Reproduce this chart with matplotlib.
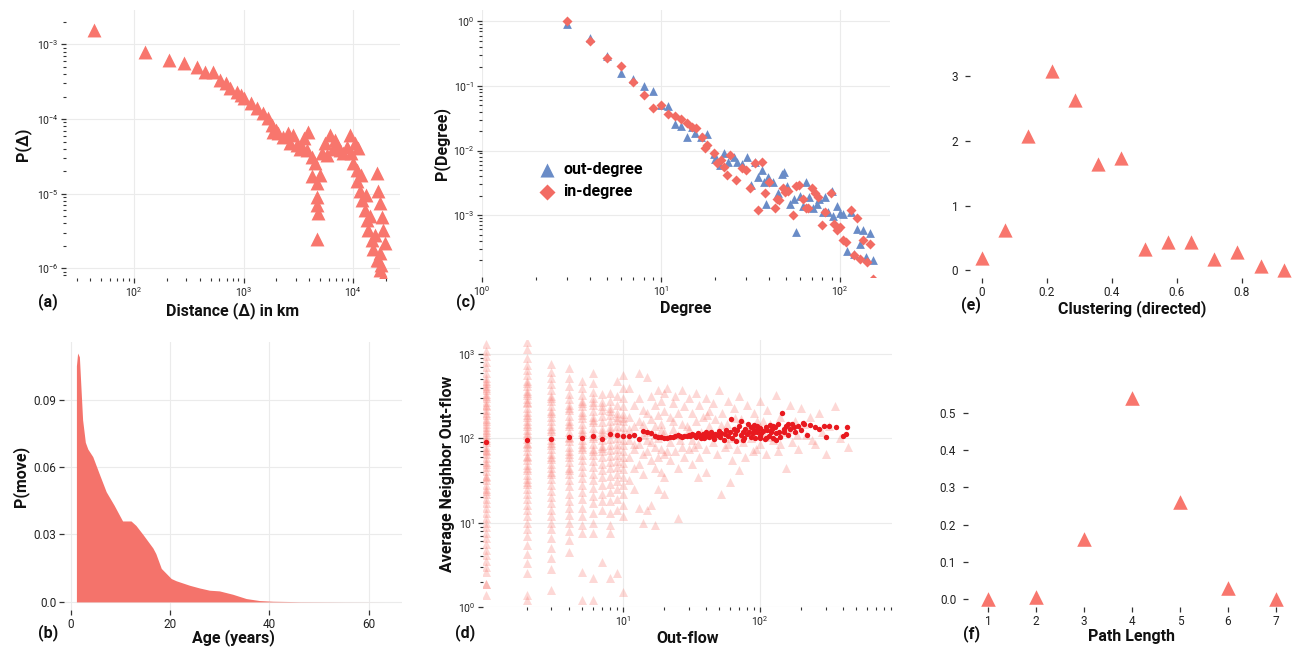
import matplotlib
matplotlib.use("Agg")
import matplotlib.pyplot as plt
import numpy as np
from matplotlib.ticker import LogLocator, NullFormatter

plt.rcParams['font.family'] = ['Roboto', 'DejaVu Sans']
plt.rcParams['mathtext.default'] = 'regular'

RED = '#F8766D'
BLUE = '#6A8CC7'
DOT = '#E8191F'
GRID = '#EBEBEB'

# (a) distance distribution
dist_km = [43, 126, 208, 285, 373, 450, 530, 605, 686, 760, 880, 940,
           1000, 1160, 1340, 1520, 1690, 1830, 1870, 2080, 2300, 2570, 2850,
           2670, 3100, 3430, 3900, 3800, 4240, 4520, 4240, 5000, 4700, 4700,
           4700, 4800, 4700, 5560, 6170, 6850, 7600, 5800, 5230, 7100, 8100,
           9400, 10400, 11100, 9600, 9900, 10900, 10900, 11600, 12100, 12900,
           13400, 13700, 14900, 15200, 16500, 17500, 18700, 16500, 16900,
           17500, 18300, 18700, 19500, 17500, 17000, 3600, 3300, 2000, 6500,
           8800, 11800, 13000, 14200, 15800, 18000]
p_dist = [1.57e-3, 7.9e-4, 6.2e-4, 5.6e-4, 5.0e-4, 4.3e-4, 4.3e-4, 3.3e-4,
          3.0e-4, 2.6e-4, 2.3e-4, 2.1e-4,
          1.9e-4, 1.64e-4, 1.4e-4, 1.2e-4, 1.03e-4, 8.3e-5, 6.7e-5, 6.5e-5,
          5.7e-5, 6.5e-5, 6.1e-5, 4.8e-5, 4.5e-5, 4.2e-5, 6.7e-5, 3.8e-5,
          3.1e-5, 2.6e-5, 1.7e-5, 1.8e-5, 1.4e-5, 9e-6, 7e-6, 5.5e-6, 2.5e-6,
          4.8e-5, 6.1e-5, 5.2e-5, 3.8e-5, 3.3e-5, 3.5e-5, 4.5e-5, 3.5e-5,
          6.1e-5, 4.8e-5, 4.1e-5, 3.5e-5, 2.6e-5, 2.1e-5, 1.5e-5, 1.1e-5,
          8.2e-6, 6e-6, 4.4e-6, 3.3e-6, 2.4e-6, 1.8e-6, 1.3e-6, 9.4e-7,
          7.6e-7, 1.9e-5, 1.1e-5, 7.4e-6, 4.8e-6, 3.3e-6, 2.2e-6, 1.6e-6,
          1.3e-6, 5.5e-5, 4.0e-5, 7.2e-5, 4.0e-5, 4.2e-5, 1.8e-5, 9.5e-6,
          5.0e-6, 2.8e-6, 1.1e-6]

# (b) probability of moving by age
age = [1.1, 1.1, 1.35, 1.7, 2.0, 2.35, 2.9, 3.4, 4.4, 5.7, 7.1, 8.7, 10.4,
       11.1, 12.1, 13.1, 14.5, 16.5, 17.1, 18.2, 20.2, 21.2, 23.9, 25.9,
       27.9, 29.9, 32.6, 35.3, 38.0, 40.7, 46.0, 55.0, 63.0]
p_move = [0.0, 0.105, 0.1107, 0.109, 0.096, 0.081, 0.071, 0.068, 0.0646,
          0.057, 0.049, 0.043, 0.036, 0.036, 0.036, 0.034, 0.030, 0.024,
          0.0215, 0.0149, 0.0104, 0.0094, 0.0074, 0.0062, 0.0052, 0.0049,
          0.0034, 0.0015, 0.0006, 0.0003, 0.0001, 0.00003, 0.0]

# (c) degree distributions
out_deg = [3, 4, 5, 6, 7, 8, 9, 10, 11, 12, 13, 14, 15, 15.5, 16.7, 18.2,
           19.9, 20.1, 21.5, 22.6, 23.7, 25.5, 26.6, 28.4, 30.2, 31.8, 33.8,
           35.1, 36.7, 37.9, 39.6, 38.8, 42.6, 45.4, 47.4, 48.9, 51.0, 52.8,
           55.6, 57.0, 60.0, 62.1, 64.8, 67.7, 71.3, 74.4, 76.9, 80.4, 82.8,
           86.4, 90.2, 92.2, 97.1, 100.4, 104.8, 109.3, 115.2, 120.2, 124.4,
           129.9, 135.5, 140.3, 147.7, 152.9]
p_out = [0.92, 0.55, 0.29, 0.16, 0.127, 0.10, 0.085, 0.050, 0.049, 0.026,
         0.024, 0.016, 0.023, 0.019, 0.0164, 0.018, 0.0088, 0.0073, 0.0059,
         0.0091, 0.0067, 0.008, 0.0067, 0.0062, 0.008, 0.0029, 0.0066,
         0.0039, 0.005, 0.0032, 0.0039, 0.0015, 0.0033, 0.0022, 0.0044,
         0.0047, 0.0028, 0.0015, 0.0018, 0.00054, 0.002, 0.0014, 0.0033,
         0.0019, 0.0013, 0.0015, 0.0018, 0.0011, 0.0019, 0.0011, 0.0024,
         0.00096, 0.0014, 0.00106, 0.00104, 0.00028, 0.00112, 0.00025,
         0.0006, 0.00036, 0.00058, 0.000225, 0.00053, 0.0002]
in_deg = [3, 4, 5, 6, 7, 8, 9, 10, 11, 12, 13, 14, 15, 15.7, 16.9, 17.7,
          18.2, 19.9, 20.7, 21.6, 22.6, 23.4, 24.2, 26.4, 28.4, 30.0, 31.3,
          33.6, 35.1, 36.7, 38.3, 40.0, 43.2, 44.5, 46.0, 48.0, 49.5, 51.7,
          55.1, 57.0, 59.5, 62.7, 64.8, 66.8, 69.8, 72.8, 76.0, 79.3, 82.8,
          89.1, 93.0, 96.2, 100.4, 104.8, 108.5, 115.2, 120.2, 124.4, 129.9,
          134.4, 141.5, 147.7, 152.9]
p_in = [1.0, 0.49, 0.27, 0.205, 0.117, 0.073, 0.045, 0.051, 0.037, 0.034,
        0.0305, 0.027, 0.023, 0.022, 0.0164, 0.0108, 0.0122, 0.0093, 0.0063,
        0.0071, 0.0056, 0.0042, 0.0085, 0.0035, 0.0053, 0.005, 0.0026,
        0.0063, 0.0012, 0.0067, 0.0022, 0.0033, 0.0013, 0.0018, 0.0017,
        0.0026, 0.0023, 0.0024, 0.001, 0.0028, 0.0029, 0.0018, 0.0013,
        0.0013, 0.0026, 0.0022, 0.0019, 0.0007, 0.0011, 0.0022, 0.00074,
        0.00058, 0.00066, 0.00041, 0.000385, 0.0012, 0.00024, 0.00089,
        0.00021, 0.00041, 0.00019, 0.00036, 0.000104]

# (d) average neighbour out-flow, one list per small out-flow value
flow_cols = {
    1: [1300, 1100, 950, 800, 700, 600, 520, 460, 420, 380, 340, 300, 270,
        240, 215, 190, 170, 150, 135, 120, 110, 100, 90, 80, 72, 65, 58, 52,
        46, 41, 36, 32, 28, 25, 22, 19, 17, 15, 13, 11.5, 10, 8.8, 7.6, 6.5,
        5.6, 4.8, 4.1, 3.5, 3.0, 2.6, 1.9, 1.4, 480, 400, 320, 250, 200, 160,
        125, 95, 70, 50, 35, 24, 1.9],
    2: [1380, 1150, 900, 750, 640, 560, 480, 420, 370, 330, 290, 260, 230,
        205, 180, 160, 140, 125, 110, 98, 88, 78, 70, 62, 55, 48, 42, 37, 33,
        29, 25, 22, 19, 16, 14, 12, 10, 8.5, 7, 5.5, 4.3, 3.3, 2.5, 1.4, 1.2,
        450, 350, 270, 190, 150, 115, 85, 60, 44, 30],
    3: [760, 620, 520, 440, 380, 320, 280, 240, 210, 180, 160, 140, 122, 108,
        95, 84, 74, 65, 57, 50, 44, 38, 33, 28, 24, 20, 17, 14, 12, 10, 8.5,
        6.5, 5, 3.8, 2.8, 1.6, 300, 200, 130, 88, 60, 40],
    4: [690, 520, 420, 340, 290, 250, 215, 185, 160, 140, 120, 105, 92, 80,
        70, 60, 52, 45, 38, 32, 27, 22, 18, 15, 12.5, 10, 8, 6.2, 4.5, 230,
        150, 100, 65, 42],
    5: [480, 400, 330, 280, 240, 205, 175, 150, 130, 112, 97, 85, 74, 64, 55,
        47, 40, 34, 28, 23, 19, 15, 12, 9.5, 7.6, 2.6, 1.2, 260, 190, 120, 80],
    6: [600, 450, 360, 300, 250, 210, 180, 155, 132, 115, 100, 86, 74, 63, 54,
        46, 38, 32, 26, 21, 17, 13, 10, 7.5, 2.2, 1.2, 270, 165, 108, 70],
    7: [340, 270, 220, 185, 155, 130, 110, 95, 82, 70, 60, 50, 42, 35, 28, 22,
        18, 14, 3.4, 240, 120, 76],
    8: [350, 280, 230, 190, 160, 135, 115, 98, 84, 72, 62, 52, 44, 36, 29, 23,
        18, 13, 9.5, 7.6, 2.2, 210, 125],
    9: [480, 320, 250, 200, 165, 140, 118, 100, 86, 74, 63, 54, 46, 38, 31,
        25, 19, 14, 2.5, 180],
    10: [560, 400, 300, 240, 195, 160, 135, 115, 97, 83, 71, 60, 51, 43, 35,
         28, 22, 16, 12, 1.5, 175],
}
cloud_x = [11, 11, 11, 11, 11, 12, 12, 12, 12, 12, 13, 13, 13, 13, 13, 13, 14,
           14, 14, 14, 14, 15, 15, 15, 15, 15, 16, 16, 16, 16, 16, 17, 17, 17,
           17, 17, 18, 18, 18, 18, 19, 19, 19, 19, 20, 20, 20, 20, 20, 21, 22,
           22, 22, 23, 23, 24, 24, 25, 25, 25, 25, 27, 27, 27, 28, 28, 30, 30,
           30, 32, 32, 32, 34, 34, 35, 36, 36, 38, 38, 40, 40, 42, 42, 45, 45,
           47, 48, 50, 50, 52, 53, 55, 57, 58, 60, 62, 64, 66, 68, 70, 72, 75,
           78, 80, 82, 85, 88, 90, 95, 100, 100, 105, 110, 112, 118, 125, 130,
           135, 140, 150, 155, 165, 170, 180, 190, 200, 215, 230, 250, 270,
           300, 320, 350, 380, 440, 60, 70, 40, 35, 20, 18,
           11, 12, 14, 15, 17, 19, 21, 23, 26, 29, 33, 37, 41, 46, 52, 58, 65,
           73, 83, 93, 105, 120, 140, 160, 185, 210, 240, 280]
cloud_y = [400, 180, 95, 60, 32, 250, 140, 75, 45, 25, 600, 300, 160, 85, 50,
           15, 220, 110, 65, 38, 10, 530, 200, 120, 70, 14, 320, 170, 90, 55,
           16, 250, 140, 80, 45, 9.5, 380, 190, 100, 60, 280, 150, 75, 40, 350,
           210, 120, 65, 35, 400, 180, 90, 55, 260, 130, 320, 70, 200, 110, 45,
           11.5, 380, 150, 80, 240, 60, 300, 130, 75, 200, 95, 50, 350, 160, 85,
           250, 60, 180, 110, 300, 75, 140, 210, 90, 260, 170, 65, 380, 120, 22,
           200, 80, 150, 280, 100, 55, 230, 130, 75, 320, 170, 90, 60, 250, 140,
           100, 70, 200, 160, 85, 280, 120, 65, 220, 150, 95, 330, 70, 180, 120,
           45, 250, 90, 160, 75, 230, 110, 180, 85, 200, 65, 140, 240, 100, 80,
           30, 42, 40, 35, 22, 25,
           130, 85, 150, 95, 110, 125, 70, 160, 95, 140, 80, 120, 190, 110, 145,
           85, 175, 100, 130, 75, 160, 105, 85, 130, 110, 150, 95, 120]
mean_x = [1, 2, 3, 4, 5, 6, 7, 8, 9, 10, 11, 12, 13, 14, 15, 16, 17, 18, 19,
          20, 21, 22, 23, 24, 25, 26, 27, 28, 29, 30, 31, 32, 33, 34, 35, 36,
          37, 38, 39, 40, 41, 42, 43, 44, 45, 46, 47, 48, 50, 51, 52, 54, 55,
          56, 58, 60, 61, 62, 64, 66, 67, 68, 70, 72, 73, 75, 76, 78, 80, 81,
          83, 85, 86, 88, 90, 92, 94, 95, 97, 99, 100, 102, 105, 108, 110, 112,
          115, 118, 120, 122, 125, 128, 130, 135, 138, 140, 145, 148, 150, 155,
          160, 165, 170, 175, 180, 190, 200, 210, 220, 230, 250, 270, 290, 300,
          320, 360, 400, 420, 430, 205, 160, 125, 100, 90, 75, 110, 130]
mean_y = [90, 95, 98, 105, 100, 108, 98, 112, 110, 108, 108, 110, 98, 122,
          118, 116, 106, 103, 104, 102, 100, 105, 104, 108, 110, 106, 104, 106,
          108, 110, 107, 112, 109, 105, 115, 110, 102, 112, 100, 118, 108, 104,
          113, 120, 106, 98, 114, 110, 122, 104, 116, 95, 112, 126, 108, 118,
          170, 102, 130, 112, 92, 125, 140, 110, 160, 118, 100, 130, 112, 150,
          120, 105, 135, 115, 125, 100, 140, 118, 128, 108, 132, 115, 122, 98,
          138, 125, 108, 145, 118, 128, 102, 135, 115, 150, 120, 105, 200, 130,
          118, 140, 110, 128, 150, 135, 118, 142, 125, 148, 110, 145, 138, 130,
          140, 105, 140, 138, 108, 112, 135, 152, 148, 140, 100, 145, 95, 100,
          96]

# (e) clustering
clust = [0, 1/14, 2/14, 3/14, 4/14, 5/14, 6/14, 7/14, 8/14, 9/14, 10/14,
         11/14, 12/14, 13/14]
p_clust = [0.19, 0.63, 2.08, 3.08, 2.63, 1.64, 1.74, 0.33, 0.43, 0.43, 0.18,
           0.28, 0.07, 0.0]

# (f) path length
path_len = [1, 2, 3, 4, 5, 6, 7]
p_path = [0.0, 0.005, 0.16, 0.54, 0.26, 0.03, 0.0]

W, H = 1299, 648
fig = plt.figure(figsize=(W / 100, H / 100), dpi=100)


def box(l, t, r, b):
    return [l / W, 1 - b / H, (r - l) / W, (b - t) / H]


def style(ax, grid=True, size=7.5):
    for s in ax.spines.values():
        s.set_visible(False)
    ax.tick_params(which='major', length=3.5, width=0.9, color='#333333',
                   labelsize=size, labelcolor='#222222', pad=2)
    ax.tick_params(which='minor', length=2.5, width=0.8, color='#333333')
    if grid:
        ax.grid(True, which='major', color=GRID, linewidth=0.8)
        ax.set_axisbelow(True)


def logticks(ax):
    for a in [ax.xaxis, ax.yaxis]:
        a.set_minor_locator(LogLocator(base=10, subs=np.arange(2, 10), numticks=20))
        a.set_minor_formatter(NullFormatter())


lab = dict(fontsize=11.5, fontweight='semibold', color='#111111')
plab = dict(fontsize=11.5, fontweight='bold', color='#111111')

# (a)
ax = fig.add_axes(box(66, 10, 400, 278))
style(ax)
ax.scatter(dist_km, p_dist, marker='^', s=100, color=RED, linewidths=0, zorder=3)
ax.set_xscale('log')
ax.set_yscale('log')
ax.set_xlim(24, 26800)
ax.set_ylim(7.4e-7, 2.9e-3)
ax.set_xticks([1e2, 1e3, 1e4])
ax.set_yticks([1e-6, 1e-5, 1e-4, 1e-3])
logticks(ax)
ax.set_xlabel('Distance (Δ) in km', labelpad=2, **lab)
ax.set_ylabel('P(Δ)', labelpad=4, **lab)
fig.text(38 / W, 1 - 302 / H, '(a)', va='center', **plab)

# (b)
ax = fig.add_axes(box(64, 342, 402, 610))
style(ax, size=8.5)
ax.fill_between(age, p_move, 0, color='#F4736B', linewidth=0)
ax.set_xlim(-1.4, 66.7)
ax.set_ylim(-0.0036, 0.1156)
ax.set_xticks([0, 20, 40, 60])
ax.set_yticks([0.0, 0.03, 0.06, 0.09])
ax.set_yticklabels(['0.0', '0.03', '0.06', '0.09'])
ax.set_xlabel('Age (years)', labelpad=-1, **lab)
ax.set_ylabel('P(move)', labelpad=3, **lab)
fig.text(38 / W, 1 - 633 / H, '(b)', va='center', **plab)

# (c)
ax = fig.add_axes(box(482, 10, 890, 277))
style(ax)
ax.scatter(out_deg, p_out, marker='^', s=40, color=BLUE, linewidths=0,
           zorder=3, label='out-degree')
ax.scatter(in_deg, p_in, marker='D', s=26, color='#F26B63', linewidths=0,
           zorder=3, label='in-degree')
ax.set_xscale('log')
ax.set_yscale('log')
ax.set_xlim(1, 191)
ax.set_ylim(1.1e-4, 1.5)
ax.set_xticks([1, 10, 100])
ax.set_yticks([1e-3, 1e-2, 1e-1, 1])
logticks(ax)
ax.set_xlabel('Degree', labelpad=2, **lab)
ax.set_ylabel('P(Degree)', labelpad=2, **lab)
leg = ax.legend(loc='center left', bbox_to_anchor=(0.1, 0.36), frameon=False,
                fontsize=11.5, handletextpad=0.05, labelspacing=0.45,
                markerscale=1.6, borderpad=0)
for t in leg.get_texts():
    t.set_fontweight('semibold')
fig.text(456 / W, 1 - 302 / H, '(c)', va='center', **plab)

# (d)
ax = fig.add_axes(box(483, 340, 892, 607))
style(ax)
for xv, ys in flow_cols.items():
    ax.scatter([xv] * len(ys), ys, marker='^', s=42, color=RED, alpha=0.28,
               linewidths=0, zorder=2)
ax.scatter(cloud_x, cloud_y, marker='^', s=42, color=RED, alpha=0.28,
           linewidths=0, zorder=2)
ax.scatter(mean_x, mean_y, marker='o', s=15, color=DOT, linewidths=0, zorder=3)
ax.set_xscale('log')
ax.set_yscale('log')
ax.set_xlim(0.95, 915)
ax.set_ylim(1, 1470)
ax.set_xticks([10, 100])
ax.set_yticks([1, 10, 100, 1000])
logticks(ax)
ax.set_xlabel('Out-flow', labelpad=2, **lab)
ax.set_ylabel('Average Neighbor Out-flow', labelpad=2, **lab)
fig.text(455 / W, 1 - 633 / H, '(d)', va='center', **plab)

# (e)
ax = fig.add_axes(box(970, 15, 1295, 278))
style(ax, grid=False, size=8.5)
ax.scatter(clust, p_clust, marker='^', s=105, color=RED, linewidths=0, zorder=3)
ax.set_xlim(-0.037, 0.963)
ax.set_ylim(-0.12, 3.95)
ax.set_xticks([0, 0.2, 0.4, 0.6, 0.8])
ax.set_xticklabels(['0', '0.2', '0.4', '0.6', '0.8'])
ax.set_yticks([0, 1, 2, 3])
ax.tick_params(axis='y', pad=5)
ax.set_xlabel('Clustering (directed)', labelpad=1, **lab)
fig.text(961 / W, 1 - 305 / H, '(e)', va='center', **plab)

# (f)
ax = fig.add_axes(box(968, 330, 1295, 607))
style(ax, grid=False, size=8.5)
ax.scatter(path_len, p_path, marker='^', s=110, color=RED, linewidths=0, zorder=3)
ax.set_xlim(0.58, 7.4)
ax.set_ylim(-0.0215, 0.723)
ax.set_xticks(path_len)
ax.set_yticks([0.0, 0.1, 0.2, 0.3, 0.4, 0.5])
ax.set_yticklabels(['0.0', '0.1', '0.2', '0.3', '0.4', '0.5'])
ax.tick_params(axis='y', pad=5)
ax.set_xlabel('Path Length', labelpad=1, **lab)
fig.text(963 / W, 1 - 634 / H, '(f)', va='center', **plab)

fig.savefig('out.png', dpi=100)
